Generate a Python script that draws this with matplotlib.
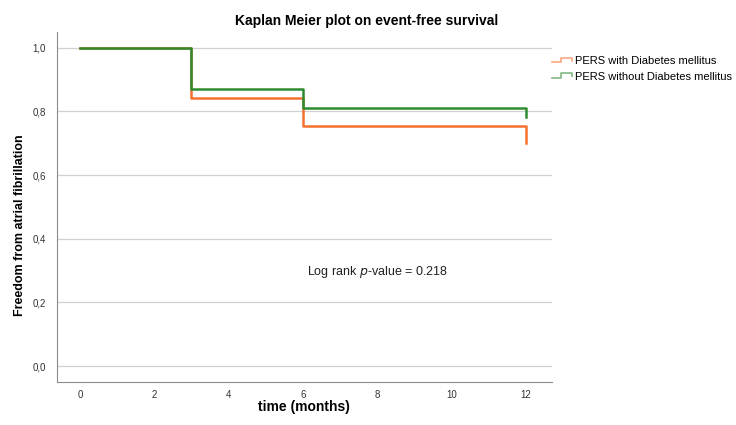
import numpy as np
import matplotlib.pyplot as plt
from matplotlib.legend_handler import HandlerBase
from matplotlib.lines import Line2D

plt.rcParams['font.family'] = ['Liberation Sans', 'DejaVu Sans']

# Kaplan-Meier step data
time_dm = [0, 3, 3, 6, 6, 12, 12]
surv_dm = [1.0, 1.0, 0.842, 0.842, 0.755, 0.755, 0.702]
time_nodm = [0, 3, 3, 6, 6, 12, 12]
surv_nodm = [1.0, 1.0, 0.872, 0.872, 0.812, 0.812, 0.784]

labels = ['PERS with Diabetes mellitus', 'PERS without Diabetes mellitus']
colors = ['#f4712f', '#2e8b2e']
xticks = [0, 2, 4, 6, 8, 10, 12]
yticks = [0.0, 0.2, 0.4, 0.6, 0.8, 1.0]


class StepHandler(HandlerBase):
    # small step-shaped legend icon, like SPSS draws it
    def create_artists(self, legend, orig_handle, xdescent, ydescent,
                       width, height, fontsize, trans):
        x = np.array([0, 0.45, 0.45, 1.0, 1.0]) * width - xdescent
        y = np.array([0.25, 0.25, 0.8, 0.8, 0.45]) * height - ydescent
        line = Line2D(x, y, color=orig_handle.get_color(), lw=1.2,
                      alpha=0.6, transform=trans)
        return [line]


fig = plt.figure(figsize=(7.36, 4.25), dpi=100)
ax = fig.add_axes([0.0774, 0.101, 0.672, 0.824])

h1, = ax.plot(time_dm, surv_dm, color=colors[0], lw=1.8, label=labels[0])
h2, = ax.plot(time_nodm, surv_nodm, color=colors[1], lw=1.8, label=labels[1])

ax.set_xlim(-0.62, 12.7)
ax.set_ylim(-0.05, 1.05)
ax.set_xticks(xticks)
ax.set_yticks(yticks)
ax.set_yticklabels([f'{v:.1f}'.replace('.', ',') for v in yticks])
ax.tick_params(length=0, labelsize=7, colors='#333333')
ax.tick_params(axis='y', pad=8)
ax.tick_params(axis='x', pad=6)
ax.grid(axis='y', color='#d0d0d0', lw=0.9)
ax.set_axisbelow(True)
for s in ['top', 'right']:
    ax.spines[s].set_visible(False)
for s in ['left', 'bottom']:
    ax.spines[s].set_color('#8c8c8c')

# SPSS centres the title over the whole chart, legend included
fig.text(0.4986, 0.951, 'Kaplan Meier plot on event-free survival',
         fontsize=10, fontweight='bold', ha='center', va='center')

ax.set_xlabel('time (months)', fontsize=10, fontweight='bold')
ax.xaxis.set_label_coords(0.5, -0.05)
ax.set_ylabel('Freedom from atrial fibrillation', fontsize=9,
              fontweight='bold')
ax.yaxis.set_label_coords(-0.063, 0.449)

ax.text(6.12, 0.296, 'Log rank $\\it{p}$-value = 0.218', fontsize=9,
        color='#222222', va='center')

ax.legend([h1, h2], labels, handler_map={h1: StepHandler(), h2: StepHandler()},
          loc='upper left', bbox_to_anchor=(0.75, 0.868),
          bbox_transform=fig.transFigure, frameon=False,
          fontsize=8, handlelength=1.8, handletextpad=0.25, labelspacing=0.5,
          borderaxespad=0, borderpad=0)

plt.savefig('out.png', dpi=100)
